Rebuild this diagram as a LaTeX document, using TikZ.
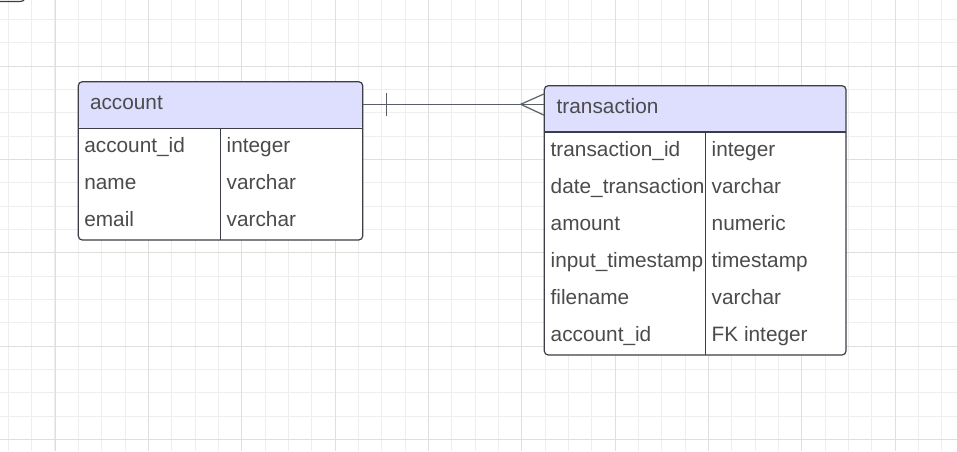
\documentclass[tikz,border=0pt]{standalone}
\usepackage{fontspec}
\setmainfont{Liberation Sans}
\definecolor{gridl}{RGB}{238,238,238}
\definecolor{gridd}{RGB}{223,223,223}
\definecolor{head}{RGB}{222,222,255}
\definecolor{bord}{RGB}{60,62,70}
\definecolor{txt}{RGB}{75,75,75}
\definecolor{conn}{RGB}{90,94,102}
\begin{document}
\begin{tikzpicture}[x=1pt,y=-1pt,
 tbl/.style={draw=bord, line width=1.2pt, fill=white, rounded corners=4pt, inner sep=0pt, outer sep=0pt},
 lbl/.style={anchor=base west, inner sep=0pt, outer sep=0pt, text=txt, font=\fontsize{20.8}{24}\selectfont},
 sepline/.style={draw=bord, line width=1.2pt},
 cline/.style={draw=conn, line width=1.2pt},
 gl/.style={draw=gridl, line width=1pt},
 gd/.style={draw=gridd, line width=1pt}]
\useasboundingbox (0,0) rectangle (957,451);
\fill[white] (0,0) rectangle (957,451);
% grid
\foreach \k in {0,...,40} \draw[gl] ({8.333+23.333*\k},0) -- ({8.333+23.333*\k},451);
\foreach \k in {0,...,18} \draw[gl] (0,{19.333+23.333*\k}) -- (957,{19.333+23.333*\k});
\foreach \k in {0,...,9} \draw[gd] ({55+93.333*\k},0) -- ({55+93.333*\k},451);
\foreach \k in {0,...,4} \draw[gd] (0,{66+93.333*\k}) -- (957,{66+93.333*\k});
% fragment top-left
\draw[bord, line width=1.2pt] (-2,1.5) -- (19,1.5) .. controls (22.5,1.5) and (24.5,0.5) .. (25.5,-2);
% account table
\node[tbl, minimum width=284.4pt, minimum height=158.3pt,
  path picture={\fill[head] (path picture bounding box.north west) rectangle ([yshift=-46.6pt]path picture bounding box.north east);}]
  (acc) at (220.5,160.85) {};
\draw[sepline] ([yshift=-46.6pt]acc.north west) -- ([yshift=-46.6pt]acc.north east);
\draw[sepline] (220.3,128.3) -- (220.3,240);
\node[lbl] (acctitle) at (90,109.5) {account};
\node[lbl] (a1n) at (84.3,152.6) {account\_id};
\node[lbl] (a1t) at (226.7,152.6) {integer};
\node[lbl] (a2n) at (84.3,189.6) {name};
\node[lbl] (a2t) at (226.7,189.6) {varchar};
\node[lbl] (a3n) at (84.3,226.8) {email};
\node[lbl] (a3t) at (226.7,226.8) {varchar};
% transaction table
\node[tbl, minimum width=301.7pt, minimum height=269.3pt,
  path picture={\fill[head] (path picture bounding box.north west) rectangle ([yshift=-46.3pt]path picture bounding box.north east);}]
  (tr) at (695.15,220.35) {};
\draw[sepline] ([yshift=-46.3pt]tr.north west) -- ([yshift=-46.3pt]tr.north east);
\draw[sepline] (705.3,132) -- (705.3,355);
\node[lbl] (trtitle) at (556.7,113.5) {transaction};
\node[lbl] (t1n) at (550.7,156) {transaction\_id};
\node[lbl] (t1t) at (711.7,156) {integer};
\node[lbl] (t2n) at (550.7,193.2) {date\_transaction};
\node[lbl] (t2t) at (711.7,193.2) {varchar};
\node[lbl] (t3n) at (550.7,230.3) {amount};
\node[lbl] (t3t) at (711.7,230.3) {numeric};
\node[lbl] (t4n) at (550.7,267.5) {input\_timestamp};
\node[lbl] (t4t) at (711.7,267.5) {timestamp};
\node[lbl] (t5n) at (550.7,304.7) {filename};
\node[lbl] (t5t) at (711.7,304.7) {varchar};
\node[lbl] (t6n) at (550.7,341.8) {account\_id};
\node[lbl] (t6t) at (711.7,341.8) {FK integer};
% connector
\draw[cline] (acc.east |- 0,104.3) -- (tr.west |- 0,104.3);
\draw[cline] (386.7,92.8) -- (386.7,116);
\draw[cline] (544.3,93.8) -- (520.7,104.3) -- (544.3,115.3);
\end{tikzpicture}
\end{document}
